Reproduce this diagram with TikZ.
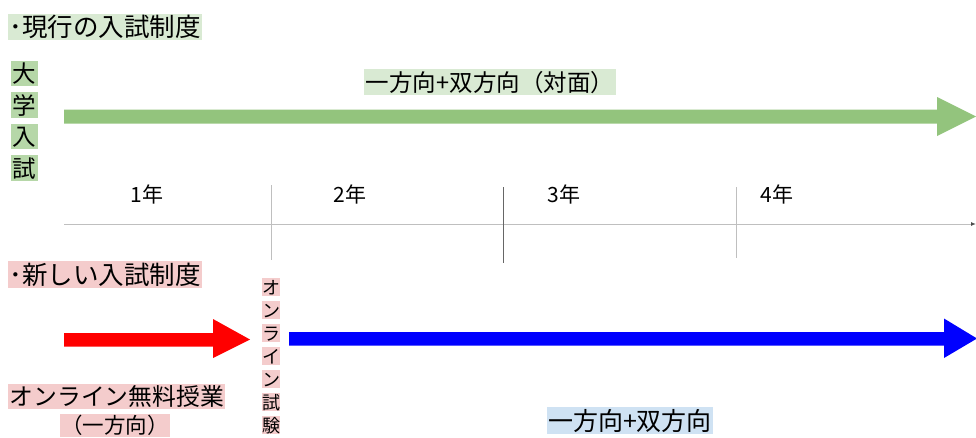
\documentclass[tikz,border=0pt]{standalone}
\usepackage{fontspec}
\usetikzlibrary{arrows.meta}
\setmainfont{Noto Sans CJK JP}
\definecolor{gbg}{HTML}{D9EAD3}
\definecolor{gbox}{HTML}{B6D7A8}
\definecolor{garrow}{HTML}{93C47D}
\definecolor{pbg}{HTML}{F4CCCC}
\definecolor{bbg}{HTML}{CFE2F3}
\definecolor{axisgray}{HTML}{BFBFBF}
\tikzset{
  lbl/.style={/utils/exec={\pgfmathsetmacro\mylblh{0.88*#1}\pgfmathsetmacro\mylbld{0.10*#1}},
    inner xsep=1.5pt,inner ysep=1pt,text height=\mylblh pt,text depth=\mylbld pt,font=\fontsize{#1}{#1}\selectfont},
  yr/.style={inner sep=0pt,font=\fontsize{21}{21}\selectfont},
  tick/.style={draw=axisgray,line width=0.8pt},
}
\begin{document}
\begin{tikzpicture}[x=1pt,y=-1pt]
\useasboundingbox (0,0) rectangle (976,437);
% titles
\node[lbl=25.5,fill=gbg,anchor=west] (t1) at (8,27) {･現行の入試制度};
\node[lbl=25.5,fill=pbg,anchor=west] (t2) at (8,274.5) {･新しい入試制度};
% vertical 大学入試
\node[lbl=23.5,fill=gbox] (v1) at (24.5,73.5) {大};
\node[lbl=23.5,fill=gbox] (v2) at (24.5,105) {学};
\node[lbl=23.5,fill=gbox] (v3) at (24.5,136.5) {入};
\node[lbl=23.5,fill=gbox] (v4) at (24.5,168) {試};
% green arrow
\fill[garrow] (64,109.5) -- (937,109.5) -- (937,97) -- (976,116.5) -- (937,136) -- (937,123.5) -- (64,123.5) -- cycle;
\node[lbl=23.5,fill=gbg] (glab) at (490,82) {一方向+双方向（対面）};
% axis
\coordinate (a0) at (64,224);
\coordinate (a1) at (976,224);
\draw[axisgray,line width=1pt,-{Latex[length=5pt,width=4pt,black!70]}] (a0) -- (a1);
\draw[tick] (271,185) -- (271,260);
\draw[draw=black!60,line width=0.8pt] (503,187) -- (503,263);
\draw[tick] (736,187) -- (736,258);
\node[yr] (y1) at (147,194) {1年};
\node[yr] (y2) at (350,194) {2年};
\node[yr] (y3) at (564,194) {3年};
\node[yr] (y4) at (777,194) {4年};
% red arrow
\fill[red] (64,333) -- (213,333) -- (213,319) -- (250,339.5) -- (213,358) -- (213,346.5) -- (64,346.5) -- cycle;
% online exam vertical
\foreach \c [count=\i] in {オ,ン,ラ,イ,ン,試,験}{
  \node[lbl=18,fill=pbg,inner xsep=0pt,inner ysep=0.3pt] (o\i) at (271,{287+23*(\i-1)}) {\c};
}
% blue arrow
\fill[blue] (289,332) -- (944,332) -- (944,318.5) -- (977,338.5) -- (944,358) -- (944,345.5) -- (289,345.5) -- cycle;
% bottom labels
\node[lbl=23.8,fill=pbg,anchor=west] (ol) at (8,396.5) {オンライン無料授業};
\node[lbl=21.5,fill=pbg] (ol2) at (115,425.5) {（一方向）};
\node[lbl=25,fill=bbg] (blab) at (630,420.5) {一方向+双方向};
\end{tikzpicture}
\end{document}
